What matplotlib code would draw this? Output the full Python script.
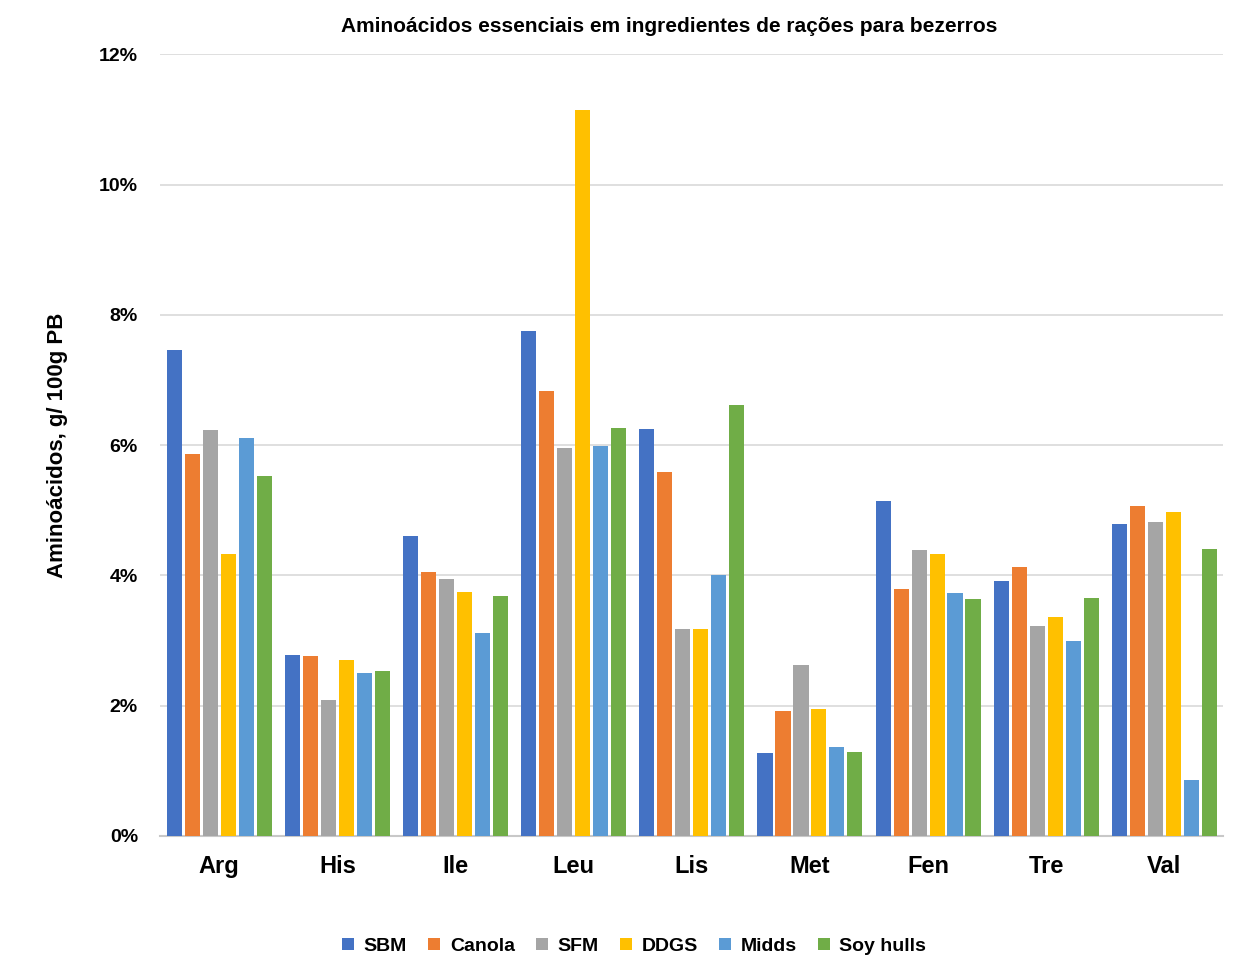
import numpy as np
import matplotlib.pyplot as plt
from matplotlib.ticker import FuncFormatter

aminoacids = ['Arg', 'His', 'Ile', 'Leu', 'Lis', 'Met', 'Fen', 'Tre', 'Val']
ingredients = ['SBM', 'Canola', 'SFM', 'DDGS', 'Midds', 'Soy hulls']

sbm = [7.46, 2.78, 4.60, 7.75, 6.25, 1.27, 5.14, 3.91, 4.79]
canola = [5.86, 2.76, 4.05, 6.83, 5.59, 1.92, 3.79, 4.13, 5.06]
sfm = [6.23, 2.09, 3.94, 5.95, 3.18, 2.62, 4.39, 3.22, 4.82]
ddgs = [4.33, 2.70, 3.74, 11.14, 3.18, 1.95, 4.33, 3.36, 4.97]
midds = [6.11, 2.50, 3.11, 5.98, 4.00, 1.37, 3.73, 2.99, 0.86]
soy_hulls = [5.52, 2.53, 3.68, 6.26, 6.61, 1.29, 3.64, 3.65, 4.40]

series = [sbm, canola, sfm, ddgs, midds, soy_hulls]
colors = ['#4472C4', '#ED7D31', '#A5A5A5', '#FFC000', '#5B9BD5', '#70AD47']

plt.rcParams['font.family'] = ['Liberation Sans', 'DejaVu Sans']
plt.rcParams['font.weight'] = 'bold'
plt.rcParams['axes.titleweight'] = 'bold'
plt.rcParams['axes.labelweight'] = 'bold'

fig = plt.figure(figsize=(12.51, 9.72), dpi=100)
ax = fig.add_axes([0.128, 0.140, 0.850, 0.804])

x = np.arange(len(aminoacids))
step = 0.152
width = 0.128
for i, (vals, name) in enumerate(zip(series, ingredients)):
    ax.bar(x + (i - 2.5) * step, vals, width=width, color=colors[i], label=name, zorder=3)

ax.set_xlim(-0.5, len(aminoacids) - 0.5)
ax.set_ylim(0, 12)
ax.set_yticks(np.arange(0, 13, 2))
ax.yaxis.set_major_formatter(FuncFormatter(lambda v, p: f'{v:.0f}%'))
ax.grid(axis='y', color='#D9D9D9', linewidth=1.2, zorder=0)
for s in ['top', 'right', 'left']:
    ax.spines[s].set_visible(False)
ax.spines['bottom'].set_color('#C8C8C8')
ax.spines['bottom'].set_linewidth(1.5)
ax.tick_params(axis='both', length=0)
ax.tick_params(axis='y', labelsize=14, pad=16)
ax.set_xticks(x)
ax.set_xticklabels(aminoacids, fontsize=17)
ax.tick_params(axis='x', pad=14)

ax.set_ylabel('Aminoácidos, g/ 100g PB', fontsize=16, labelpad=22)
ax.set_title('Aminoácidos essenciais em ingredientes de rações para bezerros',
             fontsize=15, pad=16, x=0.479)

ax.legend(loc='upper center', bbox_to_anchor=(0.446, -0.108), ncol=6, frameon=False,
          fontsize=14, handlelength=0.6, handleheight=0.6, handletextpad=0.5,
          columnspacing=1.1)

fig.savefig('out.png', dpi=100, facecolor='white')
